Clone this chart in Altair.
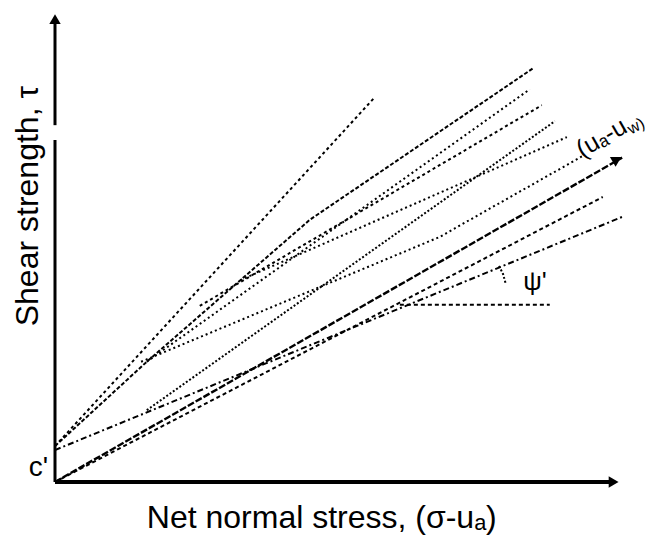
import altair as alt
import pandas as pd

# ---- values (drawing units: 1 unit = one step of the sketch) ----
# failure-envelope lines: x = net normal stress, y = shear strength
A_x = [0.0, 5.61];              A_y = [0.63, 6.75]
B_x = [0.0, 1.61, 4.47, 8.39];  B_y = [0.63, 2.11, 4.60, 7.26]
C_x = [1.61, 8.33];             C_y = [2.11, 6.89]
T_x = [1.51, 6.75, 9.26];       T_y = [2.11, 4.30, 5.72]
Lc_x = [3.25, 8.98];            Lc_y = [3.54, 6.05]
D_x = [1.61, 8.77];             D_y = [1.26, 6.33]
G_x = [2.54, 8.54];             G_y = [3.09, 6.61]
O1_x = [0.0, 9.95];             O1_y = [0.0, 5.69]   # (ua-uw) axis
O2_x = [0.0, 9.61];             O2_y = [0.0, 5.00]
L3_x = [0.0, 9.95];             L3_y = [0.56, 4.65]
H_x = [6.05, 8.68];             H_y = [3.11, 3.11]   # horizontal reference for psi'
Arc_x = [7.79, 7.86, 7.91];     Arc_y = [3.79, 3.65, 3.47]

# axes of the sketch
YL_x = [0.0, 0.0]; YL_y = [0.0, 6.0]
YU_x = [0.0, 0.0]; YU_y = [6.26, 8.12]
XA_x = [0.0, 9.72]; XA_y = [0.0, 0.0]

# arrow heads
arrow_x = [0.0, 9.80, 9.86]
arrow_y = [8.12, 0.0, 5.66]
arrow_angle = [0, 90, 60]

# labels
lab_text = ["Net normal stress, (σ-uₐ)", "Shear strength, τ", "c'", "ψ'", "(uₐ-u", "w)"]

XMAX, YMAX = 10.0, 8.298

def seg(name, xs, ys):
    return pd.DataFrame({"line": name, "seq": list(range(len(xs))), "x": xs, "y": ys})

styles = {
    "A": ([3, 3], 2.0), "B": ([4, 2], 2.0), "C": ([2, 3], 2.0), "T": ([2, 3], 2.0),
    "Lc": ([2, 3], 2.0), "D": ([2, 2], 2.0), "G": ([3, 3], 2.0), "O1": ([7, 2], 2.4),
    "O2": ([4, 3], 2.0), "L3": ([6, 3, 2, 3], 2.0), "H": ([4, 3], 2.0), "Arc": ([2, 2], 2.0),
    "YL": ([1, 0], 3.0), "YU": ([1, 0], 3.0), "XA": ([1, 0], 4.0),
}
data = {
    "A": (A_x, A_y), "B": (B_x, B_y), "C": (C_x, C_y), "T": (T_x, T_y),
    "Lc": (Lc_x, Lc_y), "D": (D_x, D_y), "G": (G_x, G_y), "O1": (O1_x, O1_y),
    "O2": (O2_x, O2_y), "L3": (L3_x, L3_y), "H": (H_x, H_y), "Arc": (Arc_x, Arc_y),
    "YL": (YL_x, YL_y), "YU": (YU_x, YU_y), "XA": (XA_x, XA_y),
}

xs = alt.Scale(domain=[0, XMAX], nice=False, zero=False)
ys = alt.Scale(domain=[0, YMAX], nice=False, zero=False)
X = lambda f="x": alt.X(f + ":Q", scale=xs, axis=None)
Y = lambda f="y": alt.Y(f + ":Q", scale=ys, axis=None)

layers = []
for name, (lx, ly) in data.items():
    dash, w = styles[name]
    mk = dict(color="black", strokeWidth=w, strokeCap="butt")
    if dash != [1, 0]:
        mk["strokeDash"] = dash
    layers.append(
        alt.Chart(seg(name, lx, ly)).mark_line(**mk).encode(x=X(), y=Y(), order="seq:Q")
    )

arrows = pd.DataFrame({"x": arrow_x, "y": arrow_y, "a": arrow_angle})
layers.append(
    alt.Chart(arrows).mark_point(shape="triangle-up", filled=True, color="black",
                                 size=130, opacity=1)
    .encode(x=X(), y=Y(), angle=alt.Angle("a:Q", scale=None))
)

FONT = "Liberation Sans, DejaVu Sans, sans-serif"

def label(text, x, y, size, angle=0, align="center", baseline="alphabetic"):
    df = pd.DataFrame({"t": [text], "x": [x], "y": [y]})
    return alt.Chart(df).mark_text(font=FONT, fontSize=size, angle=angle, align=align,
                                   baseline=baseline, color="black").encode(
        x=X(), y=Y(), text="t:N")

layers.append(label(lab_text[0], 4.68, -0.81, 32))
layers.append(label(lab_text[1], -0.30, 4.84, 32, angle=270))
layers.append(label(lab_text[2], -0.12, 0.10, 28, align="right"))
layers.append(label(lab_text[3], 8.42, 3.37, 26))
layers.append(label(lab_text[4], 9.25, 5.68, 25, angle=330, align="left"))
layers.append(label(lab_text[5], 10.11, 6.09, 16, angle=330, align="left"))

chart = alt.layer(*layers).properties(
    width=570, height=473,
    autosize=alt.AutoSizeParams(type="none"),
    padding={"left": 55, "top": 9, "right": 30, "bottom": 53},
    background="white",
).configure_view(stroke=None)

chart.save("out.html", embed_options={"renderer": "svg", "actions": False})
